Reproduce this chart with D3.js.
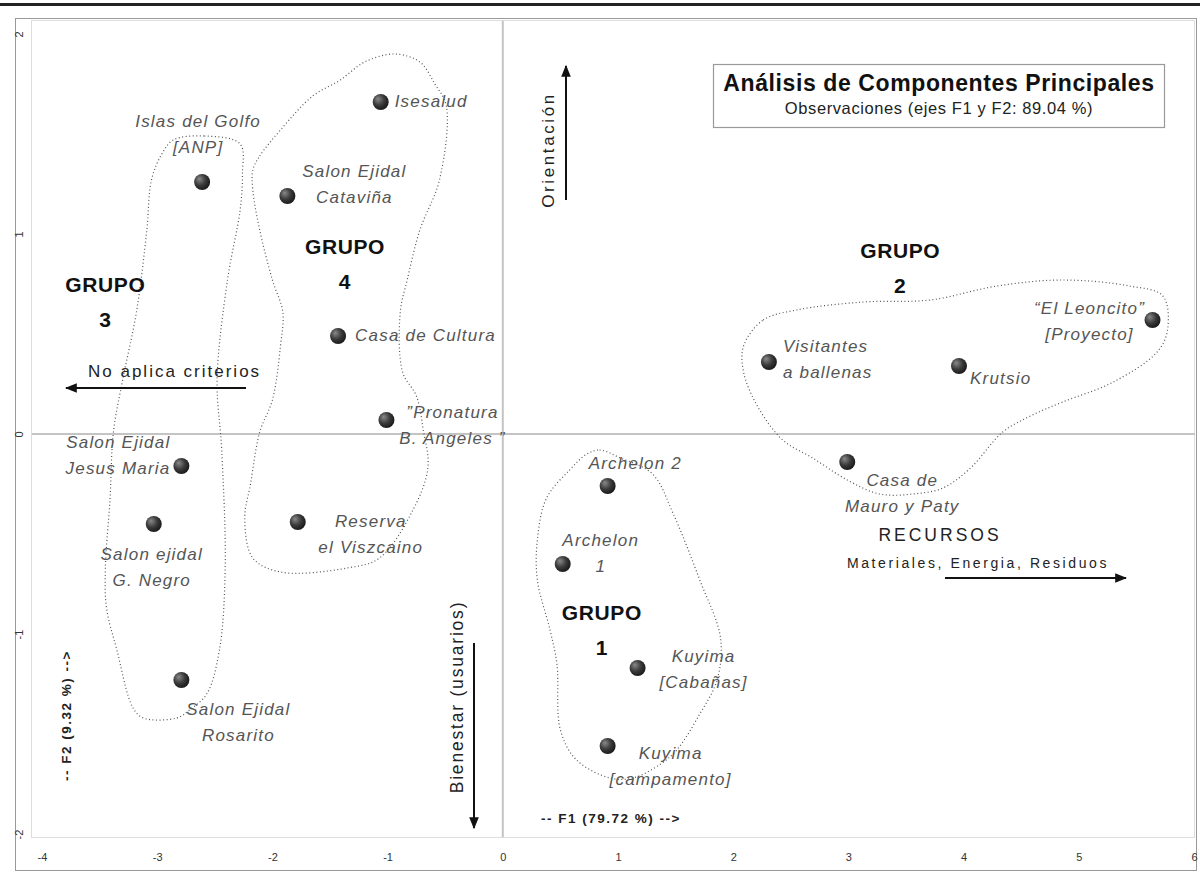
<!DOCTYPE html>
<html>
<head>
<meta charset="utf-8">
<script src="https://cdn.jsdelivr.net/npm/d3@7"></script>
<style>
  body { margin: 0; background: #fff; }
  svg { display: block; font-family: "Liberation Sans", Arial, sans-serif; }
</style>
</head>
<body>
<div id="chart"></div>
<script>
const width = 1200;
const height = 874;

// observations (F1, F2 scores)
const names = [
  ["Isesalud"], ["Islas del Golfo", "[ANP]"], ["Salon Ejidal", "Cataviña"], ["Casa de Cultura"],
  ["\u201DPronatura", "B. Angeles \u201D"], ["Salon Ejidal", "Jesus Maria"], ["Salon ejidal", "G. Negro"],
  ["Reserva", "el Viszcaino"], ["Salon Ejidal", "Rosarito"], ["Archelon 2"], ["Archelon", "1"],
  ["Kuyima", "[Cabañas]"], ["Kuyima", "[campamento]"], ["Casa de", "Mauro y Paty"],
  ["Visitantes", "a ballenas"], ["Krutsio"], ["\u201CEl Leoncito\u201D", "[Proyecto]"]
];
const f1 = [-1.06, -2.61, -1.87, -1.43, -1.01, -2.79, -3.03, -1.78, -2.79, 0.91, 0.52, 1.17, 0.91, 2.99, 2.31, 3.96, 5.64];
const f2 = [1.66, 1.26, 1.19, 0.49, 0.07, -0.16, -0.45, -0.44, -1.23, -0.26, -0.65, -1.17, -1.56, -0.14, 0.36, 0.34, 0.57];

// group outlines, in F1/F2 units
const group3 = [[-2.86,1.47],[-2.59,1.49],[-2.28,1.45],[-2.26,1.30],[-2.28,1.12],[-2.39,0.77],[-2.48,0.27],[-2.44,-0.08],[-2.41,-0.67],[-2.46,-1.08],[-2.57,-1.30],[-2.72,-1.38],[-2.83,-1.42],[-3.12,-1.42],[-3.21,-1.37],[-3.35,-1.08],[-3.44,-0.87],[-3.45,-0.67],[-3.41,-0.33],[-3.38,0.01],[-3.30,0.27],[-3.18,0.61],[-3.09,1.02],[-3.05,1.27],[-2.96,1.40]];
const group4 = [[-2.17,1.32],[-2.11,1.39],[-1.93,1.52],[-1.65,1.69],[-1.41,1.77],[-1.20,1.86],[-0.94,1.90],[-0.72,1.86],[-0.59,1.75],[-0.49,1.64],[-0.55,1.27],[-0.72,1.02],[-0.83,0.77],[-0.89,0.61],[-0.87,0.31],[-0.75,0.19],[-0.69,0.02],[-0.65,-0.17],[-0.78,-0.38],[-1.07,-0.62],[-1.35,-0.67],[-1.93,-0.69],[-2.17,-0.62],[-2.24,-0.42],[-2.19,-0.25],[-2.11,0.01],[-2.00,0.17],[-1.93,0.44],[-1.91,0.61],[-2.00,0.77],[-2.11,1.02],[-2.17,1.22]];
const group1 = [[0.73,-0.10],[0.84,-0.08],[1.02,-0.12],[1.30,-0.20],[1.48,-0.40],[1.71,-0.73],[1.89,-1.02],[1.86,-1.23],[1.71,-1.40],[1.51,-1.58],[1.37,-1.65],[1.13,-1.72],[0.93,-1.72],[0.64,-1.63],[0.50,-1.48],[0.47,-1.15],[0.41,-0.98],[0.30,-0.73],[0.30,-0.53],[0.38,-0.32],[0.58,-0.18]];
const group2 = [[2.09,0.44],[2.26,0.57],[2.55,0.62],[3.13,0.66],[3.71,0.67],[4.29,0.74],[4.86,0.77],[5.44,0.74],[5.73,0.69],[5.77,0.52],[5.68,0.41],[5.30,0.26],[4.86,0.16],[4.58,0.09],[4.34,0.01],[4.06,-0.17],[3.82,-0.27],[3.56,-0.30],[3.27,-0.30],[2.99,-0.23],[2.69,-0.12],[2.43,-0.03],[2.21,0.14],[2.09,0.31]];

const groupNames = ["GRUPO", "GRUPO", "GRUPO", "GRUPO"];
const groupNums = ["1", "2", "3", "4"];
const groupF1 = [0.86, 3.45, -3.45, -1.37];
const groupF2 = [-0.93, 0.88, 0.71, 0.9];

const xTicks = [-4, -3, -2, -1, 0, 1, 2, 3, 4, 5, 6];
const yTicks = [-2, -1, 0, 1, 2];

// label placement next to each dot: [dx, dy, anchor]
const labelPos = [
  [14, 5, "start"], [-4, -55, "middle"], [67, -19, "middle"], [17, 5, "start"],
  [66, -2, "middle"], [-11, -18, "end"], [-2, 36, "middle"], [73, 5, "middle"],
  [57, 35, "middle"], [-19, -17, "start"], [38, -18, "middle"], [66, -6, "middle"],
  [63, 13, "middle"], [55, 24, "middle"], [14, -10, "start"], [11, 18, "start"],
  [-63, -6, "middle"]
];

const x = d3.scaleLinear().domain([-4, 6]).range([42, 1194]);
const y = d3.scaleLinear().domain([-2, 2]).range([834, 34]);

const svg = d3.select("#chart").append("svg")
  .attr("width", width)
  .attr("height", height);

const defs = svg.append("defs");
const grad = defs.append("radialGradient").attr("id", "ball")
  .attr("cx", "40%").attr("cy", "40%").attr("r", "65%")
  .attr("fx", "32%").attr("fy", "30%");
grad.append("stop").attr("offset", "0%").attr("stop-color", "#8a8a8a");
grad.append("stop").attr("offset", "55%").attr("stop-color", "#3a3a3a");
grad.append("stop").attr("offset", "100%").attr("stop-color", "#161616");

defs.append("marker").attr("id", "head")
  .attr("viewBox", "0 0 10 10").attr("refX", 9).attr("refY", 5)
  .attr("markerWidth", 6).attr("markerHeight", 6)
  .attr("markerUnits", "strokeWidth")
  .attr("orient", "auto")
  .append("path").attr("d", "M0,1 L10,5 L0,9 Z").attr("fill", "#111");

// page border bits from the scan
svg.append("rect").attr("x", 0).attr("y", 3).attr("width", width).attr("height", 3).attr("fill", "#222");
svg.append("rect").attr("x", 15.5).attr("y", 18.5).attr("width", 1181).attr("height", 852)
  .attr("fill", "none").attr("stroke", "#999").attr("stroke-width", 1);
svg.append("rect").attr("x", 31.5).attr("y", 20.5).attr("width", 1163).attr("height", 817)
  .attr("fill", "none").attr("stroke", "#ddd").attr("stroke-width", 1);

// zero lines
svg.append("line")
  .attr("x1", 32).attr("x2", 1195).attr("y1", y(0)).attr("y2", y(0))
  .attr("stroke", "#c4c4c4").attr("stroke-width", 2);
svg.append("line")
  .attr("x1", x(0)).attr("x2", x(0)).attr("y1", 21).attr("y2", 837)
  .attr("stroke", "#c4c4c4").attr("stroke-width", 2);

// axes
const xAxis = svg.append("g").attr("transform", "translate(0,850)")
  .call(d3.axisBottom(x).tickValues(xTicks).tickSize(0).tickFormat(d => String(d)));
xAxis.select(".domain").remove();
xAxis.selectAll("text").attr("font-size", 11).attr("fill", "#333").attr("font-family", "Liberation Sans, Arial, sans-serif");

const yAxis = svg.append("g").attr("transform", "translate(19,0)")
  .call(d3.axisLeft(y).tickValues(yTicks).tickSize(0).tickFormat(d => String(d)));
yAxis.select(".domain").remove();
yAxis.selectAll("text")
  .attr("transform", "rotate(-90)")
  .attr("x", 0).attr("y", 0).attr("dy", "0.35em")
  .attr("text-anchor", "middle")
  .attr("font-size", 11).attr("fill", "#333").attr("font-family", "Liberation Sans, Arial, sans-serif");

// group outlines
const outline = d3.line()
  .x(d => x(d[0]))
  .y(d => y(d[1]))
  .curve(d3.curveCatmullRomClosed.alpha(0.5));

svg.append("g").selectAll("path")
  .data([group1, group2, group3, group4])
  .join("path")
  .attr("d", outline)
  .attr("fill", "none")
  .attr("stroke", "#555")
  .attr("stroke-width", 1.2)
  .attr("stroke-dasharray", "1 2.5");

// group titles
const gl = svg.append("g").selectAll("text")
  .data(groupNums)
  .join("text")
  .attr("text-anchor", "middle")
  .attr("font-size", 21)
  .attr("font-weight", "bold")
  .attr("letter-spacing", 0.6)
  .attr("fill", "#111")
  .attr("x", (d, i) => x(groupF1[i]))
  .attr("y", (d, i) => y(groupF2[i]));
gl.append("tspan").text((d, i) => groupNames[i]);
gl.append("tspan").attr("x", (d, i) => x(groupF1[i])).attr("dy", 35).text(d => d);

// observation labels
const lab = svg.append("g").selectAll("text")
  .data(names)
  .join("text")
  .attr("font-size", 17)
  .attr("font-style", "italic")
  .attr("letter-spacing", 1.2)
  .attr("fill", "#555")
  .attr("text-anchor", (d, i) => labelPos[i][2])
  .attr("x", (d, i) => x(f1[i]) + labelPos[i][0])
  .attr("y", (d, i) => y(f2[i]) + labelPos[i][1]);
lab.each(function(d, i) {
  const t = d3.select(this);
  d.forEach((line, k) => {
    t.append("tspan")
      .attr("x", x(f1[i]) + labelPos[i][0])
      .attr("dy", k === 0 ? 0 : 26)
      .text(line);
  });
});

// dots
svg.append("g").selectAll("circle")
  .data(f1)
  .join("circle")
  .attr("cx", d => x(d))
  .attr("cy", (d, i) => y(f2[i]))
  .attr("r", 8)
  .attr("fill", "url(#ball)");

// direction arrows
function arrow(x1, y1, x2, y2) {
  svg.append("line")
    .attr("x1", x1).attr("y1", y1).attr("x2", x2).attr("y2", y2)
    .attr("stroke", "#111").attr("stroke-width", 2)
    .attr("marker-end", "url(#head)");
}
arrow(566, 200, 566, 66);
arrow(246, 388, 66, 388);
arrow(474, 643, 474, 828);
arrow(945, 578, 1126, 578);

svg.append("text")
  .attr("transform", "translate(554,150) rotate(-90)")
  .attr("text-anchor", "middle").attr("font-size", 17).attr("letter-spacing", 2.6)
  .attr("fill", "#222").text("Orientación");
svg.append("text")
  .attr("x", 88).attr("y", 377)
  .attr("font-size", 17).attr("letter-spacing", 2)
  .attr("fill", "#222").text("No aplica criterios");
svg.append("text")
  .attr("transform", "translate(463,697) rotate(-90)")
  .attr("text-anchor", "middle").attr("font-size", 17.5).attr("letter-spacing", 1.8)
  .attr("fill", "#222").text("Bienestar (usuarios)");
svg.append("text")
  .attr("x", 940).attr("y", 541)
  .attr("text-anchor", "middle").attr("font-size", 17.5).attr("letter-spacing", 3)
  .attr("fill", "#222").text("RECURSOS");
svg.append("text")
  .attr("x", 978).attr("y", 568)
  .attr("text-anchor", "middle").attr("font-size", 14).attr("letter-spacing", 2.6)
  .attr("fill", "#222").text("Materiales, Energia, Residuos");

// axis titles
svg.append("text")
  .attr("x", 541).attr("y", 823)
  .attr("font-size", 13.5).attr("font-weight", "bold").attr("letter-spacing", 1.5)
  .attr("fill", "#222").attr("xml:space", "preserve").text("-- F1 (79.72 %) -->");
svg.append("text")
  .attr("transform", "translate(71,781) rotate(-90)")
  .attr("font-size", 13.5).attr("font-weight", "bold").attr("letter-spacing", 1.5)
  .attr("fill", "#222").attr("xml:space", "preserve").text("-- F2 (9.32 %) -->");

// title box
svg.append("rect")
  .attr("x", 713.5).attr("y", 64.5).attr("width", 451).attr("height", 63)
  .attr("fill", "#fff").attr("stroke", "#999").attr("stroke-width", 1.2);
svg.append("text")
  .attr("x", 939).attr("y", 91)
  .attr("text-anchor", "middle").attr("font-size", 23).attr("font-weight", "bold").attr("letter-spacing", 0.6)
  .attr("fill", "#111").text("Análisis de Componentes Principales");
svg.append("text")
  .attr("x", 939).attr("y", 114)
  .attr("text-anchor", "middle").attr("font-size", 16.5).attr("letter-spacing", 0.6)
  .attr("fill", "#222").text("Observaciones (ejes F1 y F2: 89.04 %)");
</script>
</body>
</html>
